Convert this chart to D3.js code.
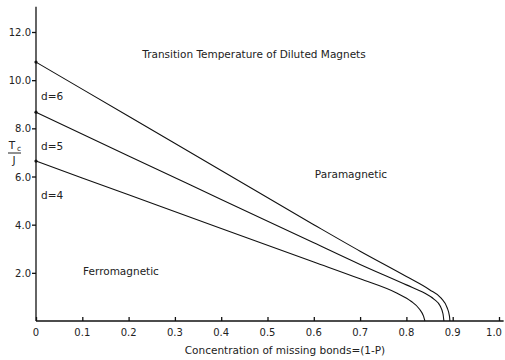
<!DOCTYPE html>
<html>
<head>
<meta charset="utf-8">
<script src="https://cdn.jsdelivr.net/npm/d3@7"></script>
<style>
  body { margin: 0; background: #fff; }
  svg text { font-family: "DejaVu Sans", sans-serif; fill: #222; }
</style>
</head>
<body>
<svg id="chart" width="505" height="360"></svg>
<script>
// values
const xTicks = [0, 0.1, 0.2, 0.3, 0.4, 0.5, 0.6, 0.7, 0.8, 0.9, 1.0];
const xTickLabels = ["0", "0.1", "0.2", "0.3", "0.4", "0.5", "0.6", "0.7", "0.8", "0.9", "1.0"];
const yTicks = [2, 4, 6, 8, 10, 12];
const yTickLabels = ["2.0", "4.0", "6.0", "8.0", "10.0", "12.0"];

const curveNames = ["d=6", "d=5", "d=4"];
const d6x = [0, 0.2, 0.4, 0.6, 0.7, 0.8, 0.85, 0.875, 0.888, 0.893, 0.894];
const d6y = [10.75, 8.5, 6.25, 4.0, 2.9, 1.85, 1.3, 0.95, 0.55, 0.2, 0];
const d5x = [0, 0.2, 0.4, 0.6, 0.7, 0.8, 0.84, 0.86, 0.873, 0.879, 0.881];
const d5y = [8.67, 6.85, 5.05, 3.25, 2.35, 1.5, 1.15, 0.9, 0.62, 0.3, 0];
const d4x = [0, 0.2, 0.4, 0.6, 0.7, 0.78, 0.81, 0.828, 0.837, 0.84];
const d4y = [6.64, 5.24, 3.84, 2.45, 1.75, 1.15, 0.82, 0.5, 0.2, 0];

const svg = d3.select("#chart");
const x = d3.scaleLinear().domain([0, 1]).range([36, 499]);
const y = d3.scaleLinear().domain([0, 12]).range([321, 32]);

// axes
const xAxis = svg.append("g")
  .attr("transform", `translate(0,${y(0)})`)
  .call(d3.axisTop(x).tickValues(xTicks).tickSize(4).tickFormat(""));
xAxis.select(".domain").attr("d", `M${x(0)},0H${x(1.01)}`);
xAxis.selectAll("line, path").attr("stroke", "#111").attr("stroke-width", 1.3);

svg.selectAll(".xlab")
  .data(xTicks)
  .join("text")
  .attr("class", "xlab")
  .attr("x", d => Math.min(x(d), 503 - 9))
  .attr("y", y(0) + 15)
  .attr("text-anchor", "middle")
  .attr("font-size", 10)
  .text((d, i) => xTickLabels[i]);

const yAxis = svg.append("g")
  .attr("transform", `translate(${x(0)},0)`)
  .call(d3.axisLeft(y).tickValues(yTicks).tickSize(4).tickFormat(""));
yAxis.select(".domain").attr("d", `M0,${y(0)}V${y(13.05)}`);
yAxis.selectAll("line, path").attr("stroke", "#111").attr("stroke-width", 1.3);

svg.selectAll(".ylab")
  .data(yTicks)
  .join("text")
  .attr("class", "ylab")
  .attr("x", x(0) - 5)
  .attr("y", d => y(d) + 4)
  .attr("text-anchor", "end")
  .attr("font-size", 10)
  .text((d, i) => yTickLabels[i]);

// curves
const line = d3.line()
  .x(d => x(d[0]))
  .y(d => y(d[1]))
  .curve(d3.curveMonotoneX);

const series = [
  d6x.map((v, i) => [v, d6y[i]]),
  d5x.map((v, i) => [v, d5y[i]]),
  d4x.map((v, i) => [v, d4y[i]])
];

svg.selectAll(".curve")
  .data(series)
  .join("path")
  .attr("class", "curve")
  .attr("d", line)
  .attr("fill", "none")
  .attr("stroke", "#111")
  .attr("stroke-width", 1.1);

// start dots on axis
svg.selectAll(".dot")
  .data(series)
  .join("circle")
  .attr("cx", d => x(d[0][0]))
  .attr("cy", d => y(d[0][1]))
  .attr("r", 1.6)
  .attr("fill", "#111");

// curve labels
svg.selectAll(".dlab")
  .data(series)
  .join("text")
  .attr("x", x(0) + 5)
  .attr("y", d => y(d[0][1]) + 38)
  .attr("font-size", 10.5)
  .text((d, i) => curveNames[i]);

// annotations
svg.append("text")
  .attr("x", 254).attr("y", 58)
  .attr("text-anchor", "middle")
  .attr("font-size", 10.5)
  .text("Transition  Temperature of Diluted Magnets");

svg.append("text")
  .attr("x", 351).attr("y", 178)
  .attr("text-anchor", "middle")
  .attr("font-size", 10.5)
  .text("Paramagnetic");

svg.append("text")
  .attr("x", 121).attr("y", 275)
  .attr("text-anchor", "middle")
  .attr("font-size", 10.5)
  .text("Ferromagnetic");

svg.append("text")
  .attr("x", 285).attr("y", 354)
  .attr("text-anchor", "middle")
  .attr("font-size", 10.5)
  .text("Concentration of missing bonds=(1-P)");

// y label Tc / J
const yl = svg.append("g").attr("transform", "translate(14,0)");
yl.append("text")
  .attr("x", -2).attr("y", 149)
  .attr("text-anchor", "middle")
  .attr("font-size", 10.5)
  .text("T");
yl.append("text")
  .attr("x", 3).attr("y", 151)
  .attr("font-size", 7.5)
  .text("c");
yl.append("line")
  .attr("x1", -6).attr("x2", 7)
  .attr("y1", 153).attr("y2", 153)
  .attr("stroke", "#222").attr("stroke-width", 1);
yl.append("text")
  .attr("x", 0).attr("y", 164)
  .attr("text-anchor", "middle")
  .attr("font-size", 10.5)
  .text("J");
</script>
</body>
</html>
